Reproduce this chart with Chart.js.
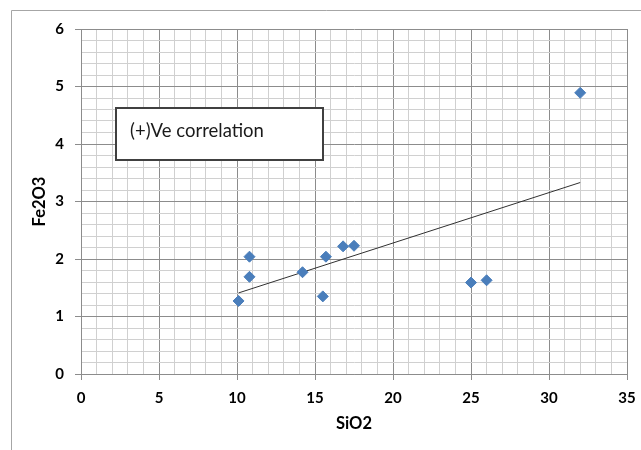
<!DOCTYPE html>
<html lang="en">
<head>
    <meta charset="UTF-8">
    <title>Fe2O3 vs SiO2</title>
    <style>
        * { box-sizing: border-box; }
        body { margin: 0; background: #ffffff; overflow: hidden; }
        .chart-container { position: relative; width: 641px; height: 450px; }
    </style>
</head>
<body>
<div class="chart-container">
    <canvas id="scatterChart" width="641" height="450"></canvas>
</div>

<script src="https://cdn.jsdelivr.net/npm/chart.js"></script>
<script>
    // data
    const sio2 = [10.1, 10.8, 10.8, 14.2, 15.5, 15.7, 16.8, 17.5, 25.0, 26.0, 32.0];
    const fe2o3 = [1.27, 1.69, 2.04, 1.77, 1.35, 2.04, 2.22, 2.23, 1.59, 1.63, 4.89];
    const trendX = [10.1, 32.0];
    const trendY = [1.41, 3.33];
    const noteText = '(+)Ve correlation';

    const points = sio2.map((x, i) => ({ x: x, y: fe2o3[i] }));
    const trend = trendX.map((x, i) => ({ x: x, y: trendY[i] }));

    const majorColor = '#8c8c8c';
    const minorColor = '#d0d0d0';
    const tickFont = { family: 'Lato', size: 15, weight: 'bold' };
    const titleFont = { family: 'Lato', size: 16.5, weight: 'bold' };

    function isMajor(v, step) {
        const r = v / step;
        return Math.abs(r - Math.round(r)) < 1e-6;
    }

    // outer frame and the text box
    const extras = {
        id: 'extras',
        beforeDraw(chart) {
            const ctx = chart.ctx;
            ctx.save();
            ctx.strokeStyle = '#a6a6a6';
            ctx.lineWidth = 1;
            ctx.beginPath();
            ctx.moveTo(11.5, 450);
            ctx.lineTo(11.5, 10.5);
            ctx.lineTo(641, 10.5);
            ctx.stroke();
            ctx.restore();
        },
        afterDraw(chart) {
            const ctx = chart.ctx;
            ctx.save();
            ctx.fillStyle = '#ffffff';
            ctx.fillRect(116, 108, 207, 52);
            ctx.strokeStyle = '#404040';
            ctx.lineWidth = 2;
            ctx.strokeRect(116, 108, 207, 52);
            ctx.fillStyle = '#1a1a1a';
            ctx.font = '18.5px Lato';
            ctx.textBaseline = 'middle';
            ctx.fillText(noteText, 130, 131);
            ctx.restore();
        }
    };

    const ctx = document.getElementById('scatterChart').getContext('2d');
    const chart = new Chart(ctx, {
        type: 'scatter',
        data: {
            datasets: [{
                label: 'Fe2O3',
                data: points,
                pointStyle: 'rectRot',
                pointRadius: 5.5,
                backgroundColor: '#4a7ebb',
                borderColor: '#4a7ebb',
                borderWidth: 1
            }, {
                label: 'Trend',
                data: trend,
                showLine: true,
                pointRadius: 0,
                borderColor: '#303030',
                borderWidth: 1
            }]
        },
        options: {
            responsive: false,
            animation: false,
            layout: { padding: { left: 0, top: 29, right: 14, bottom: 0 } },
            plugins: {
                legend: { display: false },
                tooltip: { enabled: false }
            },
            scales: {
                x: {
                    type: 'linear',
                    min: 0,
                    max: 35,
                    afterFit(scale) {
                        scale.height = 76;
                        scale.paddingLeft = 0;
                        scale.paddingRight = 0;
                    },
                    border: { color: majorColor },
                    grid: {
                        tickLength: 6,
                        color: c => isMajor(c.tick.value, 5) ? majorColor : minorColor,
                        tickColor: c => isMajor(c.tick.value, 5) ? majorColor : 'rgba(0,0,0,0)'
                    },
                    ticks: {
                        stepSize: 1,
                        autoSkip: false,
                        maxRotation: 0,
                        padding: 9,
                        color: '#000000',
                        font: tickFont,
                        callback: v => isMajor(v, 5) ? String(v) : ''
                    },
                    title: {
                        display: true,
                        text: 'SiO2',
                        color: '#000000',
                        font: titleFont,
                        padding: { top: 0, bottom: 16 }
                    }
                },
                y: {
                    type: 'linear',
                    min: 0,
                    max: 6,
                    afterFit(scale) {
                        scale.width = 81;
                        scale.paddingTop = 0;
                        scale.paddingBottom = 0;
                    },
                    border: { color: majorColor },
                    grid: {
                        tickLength: 6,
                        color: c => isMajor(c.tick.value, 1) ? majorColor : minorColor,
                        tickColor: c => isMajor(c.tick.value, 1) ? majorColor : 'rgba(0,0,0,0)'
                    },
                    ticks: {
                        stepSize: 0.2,
                        autoSkip: false,
                        padding: 11,
                        color: '#000000',
                        font: tickFont,
                        callback: v => isMajor(v, 1) ? String(Math.round(v)) : ''
                    },
                    title: {
                        display: true,
                        text: 'Fe2O3',
                        color: '#000000',
                        font: titleFont,
                        padding: { top: 30, bottom: 0 }
                    }
                }
            }
        },
        plugins: [extras]
    });
</script>
</body>
</html>
